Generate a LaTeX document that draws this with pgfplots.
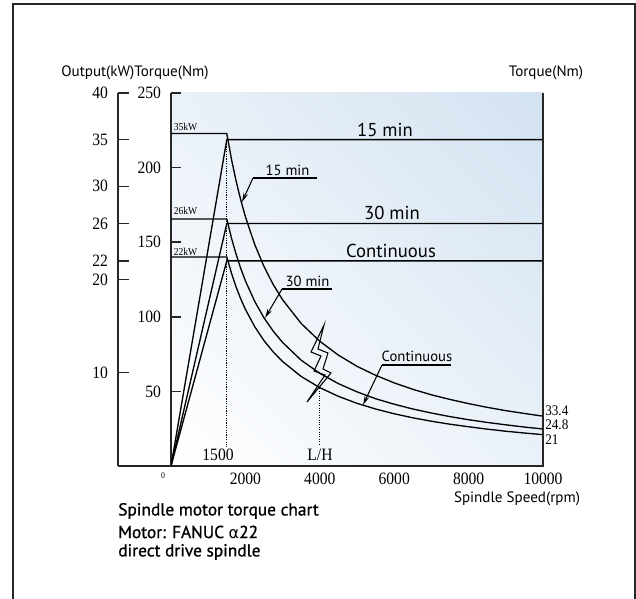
\documentclass[border=0pt]{standalone}
\usepackage{fontspec}
\setmainfont{PT Sans}
\newfontfamily\numfont[FakeStretch=0.9]{Liberation Serif}
\newfontfamily\grk{DejaVu Sans}
\newfontfamily\semib[FakeBold=1]{PT Sans}
\usepackage{pgfplots}
\pgfplotsset{compat=1.18}
\usetikzlibrary{arrows.meta,shadings}

\definecolor{bgUR}{HTML}{D3E2F1}
\definecolor{bgMID}{HTML}{EAF1F8}

% torque (Nm) vs spindle speed, T = P*9549/n above 1500 rpm
\pgfplotstableread{
n      t15    t30    tcont
0      222.8  165.5  140.1
1500   222.8  165.5  140.1
1625   205.7  152.8  129.3
1750   191.0  141.9  120.0
1875   178.3  132.4  112.0
2000   167.1  124.1  105.0
2250   148.5  110.3   93.4
2500   133.7   99.3   84.0
2750   121.5   90.3   76.4
3000   111.4   82.8   70.0
3500    95.5   70.9   60.0
4000    83.6   62.1   52.5
4500    74.3   55.2   46.7
5000    66.8   49.7   42.0
5500    60.8   45.1   38.2
6000    55.7   41.4   35.0
6500    51.4   38.2   32.3
7000    47.7   35.5   30.0
7500    44.6   33.1   28.0
8000    41.8   31.0   26.3
8500    39.3   29.2   24.7
9000    37.1   27.6   23.3
9500    35.2   26.1   22.1
10000   33.4   24.8   21.0
}\torque

% output (kW) vs spindle speed
\pgfplotstableread{
n      p15  p30  pcont
0      0    0    0
1500   35   26   22
10000  35   26   22
}\power

\begin{document}
\begin{tikzpicture}[x=0.75pt,y=0.75pt]
\useasboundingbox (0,0) rectangle (636,599);
% frame
\draw[line width=1.6pt,black!85] (13,0) -- (13,595) -- (635,595) -- (635,0);
% background of plot area
\shade[lower left=white, upper right=bgUR, upper left=bgMID, lower right=bgMID]
  (171,133) rectangle (543,506);

% output (kW) scale
\begin{axis}[
  at={(88.5pt,99.75pt)}, anchor=south west, scale only axis,
  width=318.75pt, height=279.75pt,
  xmin=0, xmax=1, ymin=0, ymax=40,
  axis x line=bottom, axis y line=left,
  x axis line style={-, line width=1.9pt, black!85},
  y axis line style={-, line width=1.1pt, black!85},
  xtick=\empty,
  ytick={10,20,22,26,30,35,40},
  tick align=inside, major tick length=8.25pt,
  ytick style={line width=1.1pt, black!85},
  yticklabel style={font=\numfont\fontsize{13}{13}\selectfont, xshift=-4pt},
  /pgf/number format/assume math mode=true,
]
\end{axis}

% torque scale and torque curves
\begin{axis}[
  at={(128.25pt,99.75pt)}, anchor=south west, scale only axis,
  width=279pt, height=279.75pt,
  xmin=0, xmax=10000, ymin=0, ymax=250,
  axis x line=bottom, axis y line=left,
  x axis line style={draw=none},
  y axis line style={-, line width=1.1pt, black!85},
  xtick={2000,4000,6000,8000,10000}, xtick style={draw=none},
  ytick={50,100,150,200,250},
  tick align=inside, major tick length=7.5pt,
  ytick style={line width=1.1pt, black!85},
  scaled x ticks=false,
  /pgf/number format/1000 sep={},
  /pgf/number format/assume math mode=true,
  xticklabel style={font=\numfont\fontsize{13}{13}\selectfont, yshift=-2pt},
  yticklabel style={font=\numfont\fontsize{13}{13}\selectfont, xshift=-4pt},
]
\addplot[black, line width=1pt] table[x=n, y=t15] {\torque};
\addplot[black, line width=1pt] table[x=n, y=t30] {\torque};
\addplot[black, line width=1pt] table[x=n, y=tcont] {\torque};
\draw[densely dotted, line width=0.8pt] (axis cs:1500,219) -- (axis cs:1500,13);
\draw[densely dotted, line width=0.8pt] (axis cs:4000,52) -- (axis cs:4000,14);
\end{axis}

% power curves
\begin{axis}[
  at={(128.25pt,99.75pt)}, anchor=south west, scale only axis,
  width=279pt, height=279.75pt,
  xmin=0, xmax=10000, ymin=0, ymax=40, hide axis,
]
\addplot[black, line width=1pt] table[x=n, y=p15] {\power};
\addplot[black, line width=1pt] table[x=n, y=p30] {\power};
\addplot[black, line width=1pt] table[x=n, y=pcont] {\power};
\end{axis}

% right border
\draw[line width=1.9pt, black!85] (543,132) -- (543,506);

% headers
\node[font=\fontsize{11.3}{12}\selectfont] at (135,526) {Output(kW)Torque(Nm)};
\node[font=\fontsize{11.3}{12}\selectfont] at (546,526) {Torque(Nm)};
\node[font=\fontsize{11.3}{12}\selectfont] at (517,100) {Spindle Speed(rpm)};

% level labels
\node[font=\numfont\fontsize{8}{8}\selectfont] at (185.5,472.5) {35kW};
\node[font=\numfont\fontsize{8}{8}\selectfont] at (185.5,388) {26kW};
\node[font=\numfont\fontsize{8}{8}\selectfont] at (185.5,347) {22kW};
\node[font=\fontsize{14}{14}\selectfont] at (385,469) {15 min};
\node[font=\fontsize{14}{14}\selectfont] at (392,386) {30 min};
\node[font=\fontsize{14}{14}\selectfont] at (391,348) {Continuous};

% callouts
\node[font=\fontsize{11}{12}\selectfont] at (287.5,429) {15 min};
\draw[line width=0.8pt] (317,421) -- (253,421);
\draw[line width=0.8pt, -{Stealth[length=7pt,width=3.5pt]}] (253,421) -- (242,397);
\node[font=\fontsize{11}{12}\selectfont] at (307.5,318) {30 min};
\draw[line width=0.8pt] (332,310) -- (282,310);
\draw[line width=0.8pt, -{Stealth[length=7pt,width=3.5pt]}] (282,310) -- (265,281);
\node[font=\fontsize{11}{12}\selectfont] at (417,243) {Continuous};
\draw[line width=0.8pt] (451,234) -- (382,234);
\draw[line width=0.8pt, -{Stealth[length=7pt,width=3.5pt]}] (382,234) -- (363,194);

% lightning
\draw[line width=0.8pt, line join=miter]
  (324,274) -- (318,250) -- (328,246) -- (323,230) -- (331,226) -- (307,197)
  -- (325,224) -- (314,228) -- (321,243) -- (311,247) -- cycle;

% speed marks
\node[font=\numfont\fontsize{13}{13}\selectfont] at (218,144) {1500};
\node[font=\numfont\fontsize{13}{13}\selectfont] at (320,144) {L/H};
\node[font=\numfont\fontsize{6.5}{7}\selectfont] at (163,123) {0};

% end values
\node[font=\numfont\fontsize{11}{11}\selectfont, anchor=west, inner sep=0pt] at (545,188) {33.4};
\node[font=\numfont\fontsize{11}{11}\selectfont, anchor=west, inner sep=0pt] at (545,174) {24.8};
\node[font=\numfont\fontsize{11}{11}\selectfont, anchor=west, inner sep=0pt] at (545,159) {21};

% caption
\node[font=\semib\fontsize{13}{13}\selectfont, anchor=west, inner sep=0pt] at (118,88) {Spindle motor torque chart};
\node[font=\semib\fontsize{13}{13}\selectfont, anchor=west, inner sep=0pt] at (118,67) {Motor: FANUC {\grk\fontsize{12}{12}\selectfont α}22};
\node[font=\semib\fontsize{13}{13}\selectfont, anchor=west, inner sep=0pt] at (118,47) {direct drive spindle};
\end{tikzpicture}
\end{document}
